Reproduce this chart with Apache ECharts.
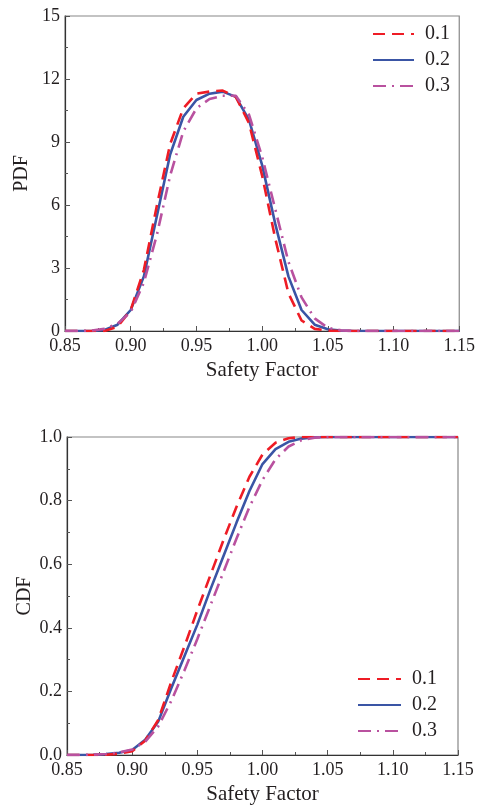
<!DOCTYPE html>
<html>
<head>
<meta charset="utf-8">
<script src="https://cdn.jsdelivr.net/npm/echarts@6/dist/echarts.min.js"></script>
<style>
html, body { margin: 0; padding: 0; background: #fff; }
#main { width: 478px; height: 807px; }
</style>
</head>
<body>
<div id="main"></div>
<script>
// safety factor samples
var sf = [0.85, 0.86, 0.87, 0.88, 0.89, 0.90, 0.91, 0.92, 0.93, 0.94, 0.95, 0.96, 0.97, 0.98, 0.99,
          1.00, 1.01, 1.02, 1.03, 1.04, 1.05, 1.06, 1.07, 1.08, 1.09, 1.10, 1.11, 1.12, 1.13, 1.14, 1.15];

var pdf01 = [0, 0, 0, 0, 0.2, 1.0, 2.9, 6.0, 8.9, 10.6, 11.3, 11.4, 11.45, 11.15, 9.9,
             7.4, 4.4, 1.8, 0.5, 0.1, 0.02, 0, 0, 0, 0, 0, 0, 0, 0, 0, 0];
var pdf02 = [0, 0, 0, 0.05, 0.3, 1.0, 2.6, 5.5, 8.4, 10.2, 11.0, 11.3, 11.4, 11.15, 10.05,
             7.9, 5.1, 2.6, 1.0, 0.3, 0.08, 0.02, 0, 0, 0, 0, 0, 0, 0, 0, 0];
var pdf03 = [0, 0, 0.02, 0.1, 0.35, 0.9, 2.3, 4.6, 7.4, 9.5, 10.6, 11.05, 11.2, 11.2, 10.3,
             8.3, 5.8, 3.3, 1.6, 0.6, 0.15, 0.03, 0, 0, 0, 0, 0, 0, 0, 0, 0];

var cdf01 = [0, 0, 0, 0.001, 0.004, 0.012, 0.045, 0.11, 0.23, 0.34, 0.455, 0.565, 0.675, 0.78, 0.875,
             0.945, 0.982, 0.996, 1, 1, 1, 1, 1, 1, 1, 1, 1, 1, 1, 1, 1];
var cdf02 = [0, 0, 0.001, 0.003, 0.007, 0.016, 0.048, 0.105, 0.21, 0.31, 0.41, 0.52, 0.625, 0.73, 0.83,
             0.915, 0.962, 0.985, 0.995, 0.999, 1, 1, 1, 1, 1, 1, 1, 1, 1, 1, 1];
var cdf03 = [0, 0, 0.001, 0.003, 0.008, 0.017, 0.042, 0.09, 0.17, 0.265, 0.365, 0.47, 0.575, 0.68, 0.78,
             0.865, 0.93, 0.97, 0.99, 0.998, 1, 1, 1, 1, 1, 1, 1, 1, 1, 1, 1];

var names = ['0.1', '0.2', '0.3'];

var FONT = 'Liberation Serif';
var TXT = '#231f20';
var RED = '#ee1c25', BLUE = '#3a55a5', MAG = '#b9519f';

function pairs(ys) {
    return sf.map(function (x, i) { return [x, ys[i]]; });
}

function xAxisOpt(gi, gap) {
    return {
        type: 'value', gridIndex: gi,
        min: 0.85, max: 1.15, interval: 0.05,
        name: 'Safety Factor', nameLocation: 'middle', nameGap: gap,
        nameTextStyle: { fontFamily: FONT, fontSize: 21, color: TXT },
        axisLine: { show: true, lineStyle: { color: '#333', width: 1.2 } },
        axisTick: { show: true, inside: true, length: 5, lineStyle: { color: '#555' } },
        minorTick: { show: true, splitNumber: 2, length: 3, lineStyle: { color: '#555' } },
        splitLine: { show: false },
        axisLabel: {
            fontFamily: FONT, fontSize: 18, color: TXT, margin: 6,
            formatter: function (v) { return v.toFixed(2); }
        }
    };
}

function yAxisOpt(gi, name, max, itv, dec, gap) {
    return {
        type: 'value', gridIndex: gi,
        min: 0, max: max, interval: itv,
        name: name, nameLocation: 'middle', nameGap: gap, nameMoveOverlap: false,
        nameTextStyle: { fontFamily: FONT, fontSize: 20, color: TXT },
        axisLine: { show: true, lineStyle: { color: '#333', width: 1.2 } },
        axisTick: { show: true, inside: true, length: 5, lineStyle: { color: '#555' } },
        minorTick: { show: true, splitNumber: 2, length: 3, lineStyle: { color: '#555' } },
        splitLine: { show: false },
        axisLabel: {
            fontFamily: FONT, fontSize: 18, color: TXT, margin: 5,
            formatter: function (v) { return v.toFixed(dec); }
        }
    };
}

function seriesSet(gi, d1, d2, d3) {
    // blue first so the dashed lines sit above it
    return [
        { name: names[1], type: 'line', xAxisIndex: gi, yAxisIndex: gi, data: pairs(d2),
          symbol: 'none', lineStyle: { color: BLUE, width: 2.6, type: 'solid' }, itemStyle: { color: BLUE } },
        { name: names[0], type: 'line', xAxisIndex: gi, yAxisIndex: gi, data: pairs(d1),
          symbol: 'none', lineStyle: { color: RED, width: 2.6, type: [12, 7] }, itemStyle: { color: RED } },
        { name: names[2], type: 'line', xAxisIndex: gi, yAxisIndex: gi, data: pairs(d3),
          symbol: 'none', lineStyle: { color: MAG, width: 2.6, type: [13, 6, 2, 6] }, itemStyle: { color: MAG } }
    ];
}

function legendOpt(left, top, w) {
    return {
        data: names, orient: 'vertical', left: left, top: top, padding: 0,
        itemWidth: w, itemHeight: 12, itemGap: 6,
        itemStyle: { opacity: 0 },
        textStyle: { fontFamily: FONT, fontSize: 20, color: TXT, lineHeight: 17, padding: [0, 0, 0, 6] }
    };
}

var chart = echarts.init(document.getElementById('main'), null, { renderer: 'canvas' });
chart.setOption({
    animation: false,
    backgroundColor: '#fff',
    grid: [
        { left: 65, top: 16, width: 396, height: 315, show: true, borderColor: '#888', borderWidth: 1.2 },
        { left: 67, top: 437, width: 391, height: 318, show: true, borderColor: '#888', borderWidth: 1.2 }
    ],
    legend: [legendOpt(372, 24, 41), legendOpt(357, 669, 43)],
    xAxis: [xAxisOpt(0, 29), xAxisOpt(1, 29)],
    yAxis: [yAxisOpt(0, 'PDF', 15, 3, 0, 33), yAxisOpt(1, 'CDF', 1, 0.2, 1, 32)],
    series: seriesSet(0, pdf01, pdf02, pdf03).concat(seriesSet(1, cdf01, cdf02, cdf03))
});
</script>
</body>
</html>
